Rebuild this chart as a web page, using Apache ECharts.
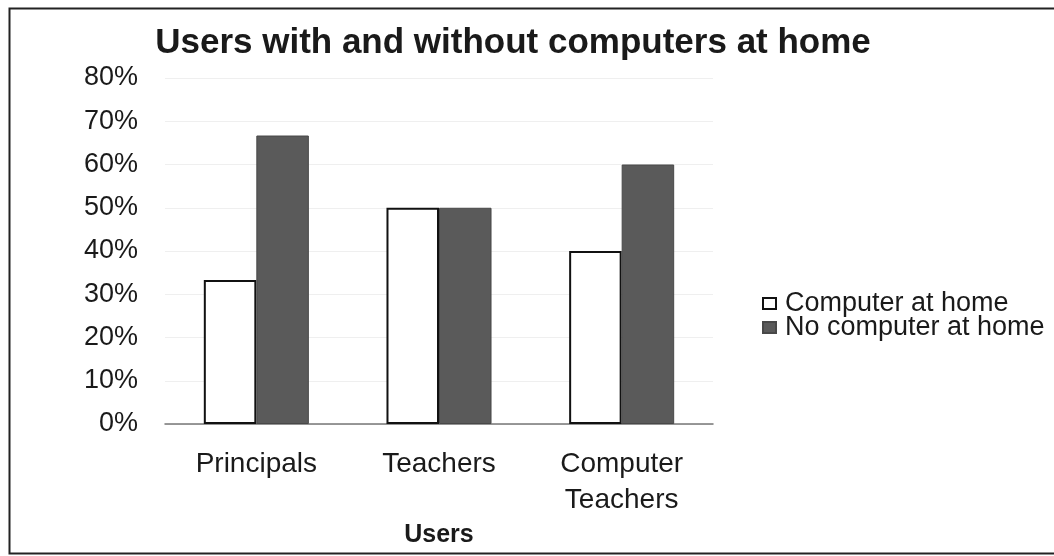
<!DOCTYPE html>
<html>
<head>
<meta charset="utf-8">
<script src="https://cdn.jsdelivr.net/npm/echarts@6/dist/echarts.min.js"></script>
<style>
  html, body { margin: 0; padding: 0; background: #fff; }
  #chart { width: 1054px; height: 556px; }
</style>
</head>
<body>
<div id="chart"></div>
<script>
// Share of users with and without a computer at home, by user group (%)
const categories = ['Principals', 'Teachers', 'Computer\nTeachers'];
const seriesNames = ['Computer at home', 'No computer at home'];
const withComputer = [33.3, 50, 40];
const withoutComputer = [66.7, 50, 60];

const FONT = '"Liberation Sans", Arial, sans-serif';

const chart = echarts.init(document.getElementById('chart'), null, { renderer: 'canvas' });

chart.setOption({
  backgroundColor: '#fff',
  animation: false,
  graphic: [{
    type: 'rect',
    left: 7, top: 6,
    shape: { width: 1060, height: 545 },
    style: { fill: 'none', stroke: '#222', lineWidth: 2 },
    silent: true,
    z: -1
  }],
  title: {
    text: 'Users with and without computers at home',
    left: 508,
    textAlign: 'center',
    top: 21,
    textStyle: { fontFamily: FONT, fontSize: 35, fontWeight: 'bold', color: '#1a1a1a' }
  },
  legend: {
    orient: 'vertical',
    left: 757,
    top: 285,
    itemWidth: 13,
    itemHeight: 11,
    itemGap: -3,
    icon: 'rect',
    textStyle: {
      fontFamily: FONT, fontSize: 27, color: '#1a1a1a',
      lineHeight: 23, padding: [0, 0, 0, 4]
    },
    data: seriesNames
  },
  grid: { left: 165, right: 341, top: 78, bottom: 132, containLabel: false },
  xAxis: {
    type: 'category',
    data: categories,
    name: 'Users',
    nameLocation: 'middle',
    nameGap: 86,
    nameTextStyle: { fontFamily: FONT, fontSize: 25, fontWeight: 'bold', color: '#1a1a1a' },
    axisLine: { show: true, lineStyle: { color: '#777', width: 1.5 } },
    axisTick: { show: false },
    axisLabel: {
      fontFamily: FONT, fontSize: 28, color: '#1a1a1a',
      margin: 22, lineHeight: 36, interval: 0
    }
  },
  yAxis: {
    type: 'value',
    min: 0, max: 80, interval: 10,
    axisLine: { show: false },
    axisTick: { show: false },
    splitLine: { show: true, lineStyle: { color: '#efefef', width: 1 } },
    axisLabel: {
      fontFamily: FONT, fontSize: 27, color: '#1a1a1a',
      margin: 27,
      formatter: v => v + '%'
    }
  },
  series: [
    {
      name: seriesNames[0],
      type: 'bar',
      data: withComputer,
      barGap: '0%',
      barCategoryGap: '42.5%',
      itemStyle: { color: '#ffffff', borderColor: '#111', borderWidth: 2 }
    },
    {
      name: seriesNames[1],
      type: 'bar',
      data: withoutComputer,
      barGap: '0%',
      barCategoryGap: '42.5%',
      itemStyle: { color: '#5a5a5a', borderColor: '#484848', borderWidth: 1 }
    }
  ]
});
</script>
</body>
</html>
